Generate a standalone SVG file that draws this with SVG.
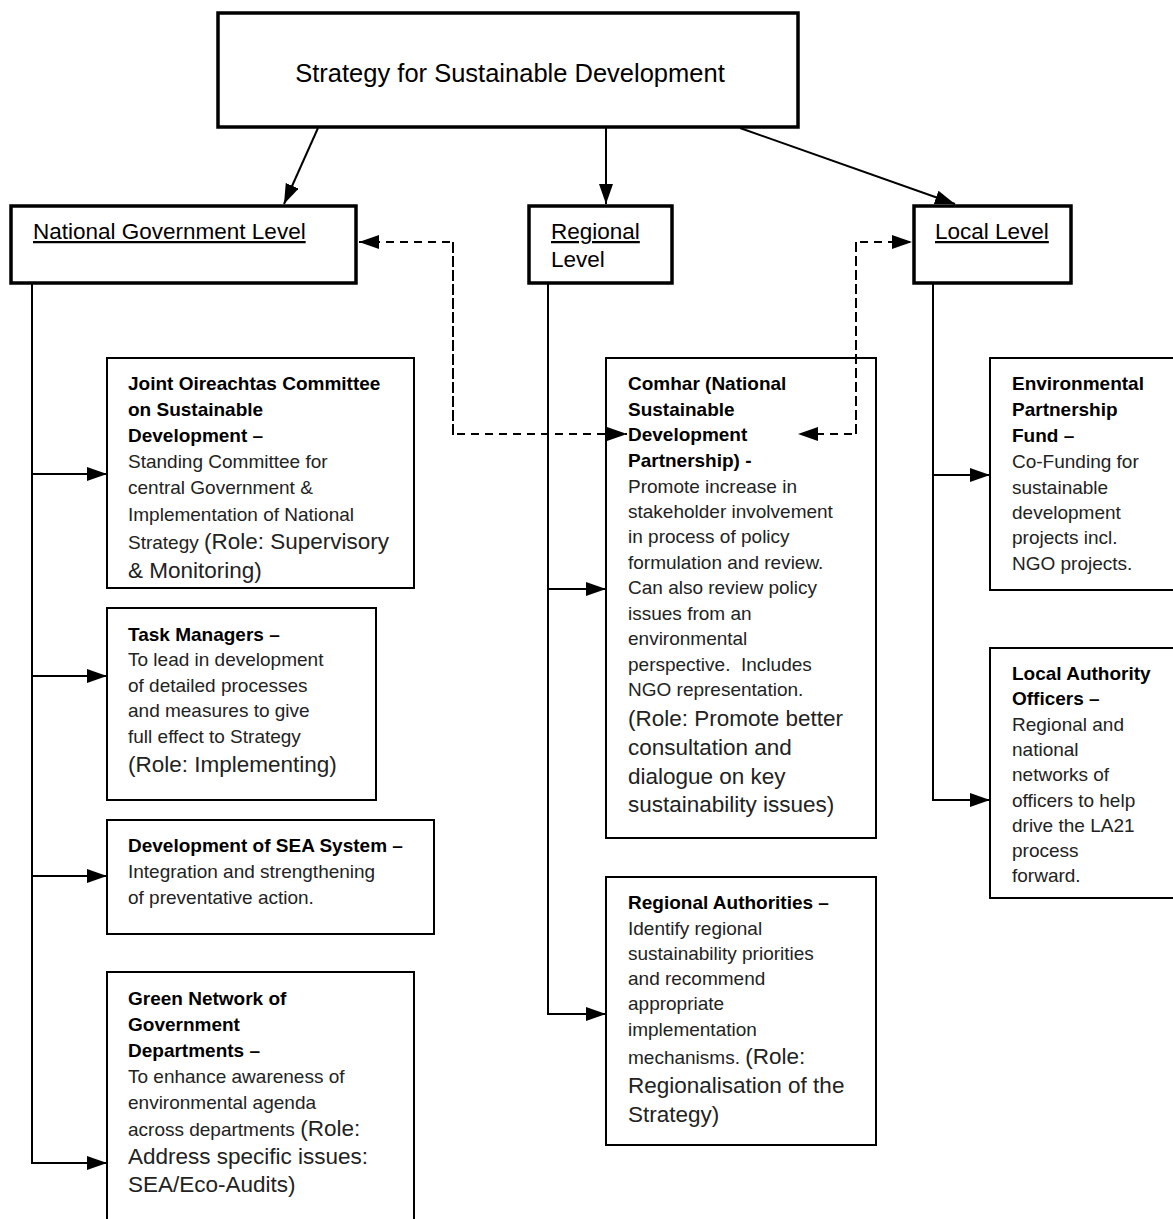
<svg xmlns="http://www.w3.org/2000/svg" width="1173" height="1219" viewBox="0 0 1173 1219">
<style>
.lvl{fill:#fff;stroke:#000;stroke-width:3.5}
.box{fill:#fff;stroke:#000;stroke-width:2}
.title{font-family:"Liberation Sans",Arial,sans-serif;font-size:25.5px;fill:#000}
.lbl{font-family:"Liberation Sans",Arial,sans-serif;font-size:22.5px;fill:#000}
.h{font-family:"Liberation Sans",Arial,sans-serif;font-size:19px;font-weight:bold;fill:#000}
.b{font-family:"Liberation Sans",Arial,sans-serif;font-size:19px;fill:#222}
.r{font-size:22.5px}
.ln{fill:none;stroke:#000;stroke-width:2}
.dash{fill:none;stroke:#000;stroke-width:2;stroke-dasharray:8,6}
</style>
<defs>
<marker id="ah" markerUnits="userSpaceOnUse" markerWidth="20" markerHeight="14" refX="20" refY="7" orient="auto">
<path d="M0,0 L20,7 L0,14 z" fill="#000"/>
</marker>
</defs>

<g id="strategy">
<rect class="lvl" x="218" y="13" width="580" height="114"/>
<text class="title" x="510" y="82" text-anchor="middle">Strategy for Sustainable Development</text>
</g>

<g id="national">
<rect class="lvl" x="11" y="206" width="345" height="77"/>
<text class="lbl" x="33" y="239" text-decoration="underline">National Government Level</text>
</g>

<g id="regional">
<rect class="lvl" x="529" y="206" width="143" height="77"/>
<text class="lbl" x="551" y="239" text-decoration="underline">Regional</text>
<text class="lbl" x="551" y="267">Level</text>
</g>

<g id="local">
<rect class="lvl" x="914" y="206" width="157" height="77"/>
<text class="lbl" x="935" y="239" text-decoration="underline">Local Level</text>
</g>

<g id="joint">
<rect class="box" x="107" y="358" width="307" height="230"/>
<text class="h" x="128" y="390">Joint Oireachtas Committee</text>
<text class="h" x="128" y="416">on Sustainable</text>
<text class="h" x="128" y="442">Development –</text>
<text class="b" x="128" y="468">Standing Committee for</text>
<text class="b" x="128" y="494">central Government &amp;</text>
<text class="b" x="128" y="521">Implementation of National</text>
<text class="b" x="128" y="549">Strategy <tspan class="r">(Role: Supervisory</tspan></text>
<text class="b r" x="128" y="578">&amp; Monitoring)</text>
</g>

<g id="task">
<rect class="box" x="107" y="608" width="269" height="192"/>
<text class="h" x="128" y="641">Task Managers –</text>
<text class="b" x="128" y="666">To lead in development</text>
<text class="b" x="128" y="692">of detailed processes</text>
<text class="b" x="128" y="717">and measures to give</text>
<text class="b" x="128" y="743">full effect to Strategy</text>
<text class="b r" x="128" y="772">(Role: Implementing)</text>
</g>

<g id="sea">
<rect class="box" x="107" y="820" width="327" height="114"/>
<text class="h" x="128" y="852">Development of SEA System –</text>
<text class="b" x="128" y="878">Integration and strengthening</text>
<text class="b" x="128" y="904">of preventative action.</text>
</g>

<g id="green">
<rect class="box" x="107" y="972" width="307" height="260"/>
<text class="h" x="128" y="1005">Green Network of</text>
<text class="h" x="128" y="1031">Government</text>
<text class="h" x="128" y="1057">Departments –</text>
<text class="b" x="128" y="1083">To enhance awareness of</text>
<text class="b" x="128" y="1109">environmental agenda</text>
<text class="b" x="128" y="1136">across departments <tspan class="r">(Role:</tspan></text>
<text class="b r" x="128" y="1164">Address specific issues:</text>
<text class="b r" x="128" y="1192">SEA/Eco-Audits)</text>
</g>

<g id="comhar">
<rect class="box" x="606" y="358" width="270" height="480"/>
<text class="h" x="628" y="390">Comhar (National</text>
<text class="h" x="628" y="416">Sustainable</text>
<text class="h" x="628" y="441">Development</text>
<text class="h" x="628" y="467">Partnership) -</text>
<text class="b" x="628" y="493">Promote increase in</text>
<text class="b" x="628" y="518">stakeholder involvement</text>
<text class="b" x="628" y="543">in process of policy</text>
<text class="b" x="628" y="569">formulation and review.</text>
<text class="b" x="628" y="594">Can also review policy</text>
<text class="b" x="628" y="620">issues from an</text>
<text class="b" x="628" y="645">environmental</text>
<text class="b" x="628" y="671" xml:space="preserve">perspective.  Includes</text>
<text class="b" x="628" y="696">NGO representation.</text>
<text class="b r" x="628" y="726">(Role: Promote better</text>
<text class="b r" x="628" y="755">consultation and</text>
<text class="b r" x="628" y="784">dialogue on key</text>
<text class="b r" x="628" y="812">sustainability issues)</text>
</g>

<g id="regauth">
<rect class="box" x="606" y="877" width="270" height="268"/>
<text class="h" x="628" y="909">Regional Authorities –</text>
<text class="b" x="628" y="935">Identify regional</text>
<text class="b" x="628" y="960">sustainability priorities</text>
<text class="b" x="628" y="985">and recommend</text>
<text class="b" x="628" y="1010">appropriate</text>
<text class="b" x="628" y="1036">implementation</text>
<text class="b" x="628" y="1064">mechanisms. <tspan class="r">(Role:</tspan></text>
<text class="b r" x="628" y="1093">Regionalisation of the</text>
<text class="b r" x="628" y="1122">Strategy)</text>
</g>

<g id="envfund">
<rect class="box" x="990" y="358" width="200" height="232"/>
<text class="h" x="1012" y="390">Environmental</text>
<text class="h" x="1012" y="416">Partnership</text>
<text class="h" x="1012" y="442">Fund –</text>
<text class="b" x="1012" y="468">Co-Funding for</text>
<text class="b" x="1012" y="494">sustainable</text>
<text class="b" x="1012" y="519">development</text>
<text class="b" x="1012" y="544">projects incl.</text>
<text class="b" x="1012" y="570">NGO projects.</text>
</g>

<g id="laofficers">
<rect class="box" x="990" y="648" width="200" height="250"/>
<text class="h" x="1012" y="680">Local Authority</text>
<text class="h" x="1012" y="705">Officers –</text>
<text class="b" x="1012" y="731">Regional and</text>
<text class="b" x="1012" y="756">national</text>
<text class="b" x="1012" y="781">networks of</text>
<text class="b" x="1012" y="807">officers to help</text>
<text class="b" x="1012" y="832">drive the LA21</text>
<text class="b" x="1012" y="857">process</text>
<text class="b" x="1012" y="882">forward.</text>
</g>

<g id="connectors">
<line class="ln" x1="318" y1="128" x2="284" y2="204" marker-end="url(#ah)"/>
<line class="ln" x1="606" y1="128" x2="606" y2="204" marker-end="url(#ah)"/>
<line class="ln" x1="740" y1="128" x2="955" y2="204" marker-end="url(#ah)"/>
<polyline class="dash" points="453,435 453,242 359,242" marker-end="url(#ah)"/>
<polyline class="dash" points="453,242 453,434 627,434" marker-end="url(#ah)"/>
<polyline class="dash" points="856,434 856,242 912,242" marker-end="url(#ah)"/>
<polyline class="dash" points="856,242 856,434 798,434" marker-end="url(#ah)"/>
<line class="ln" x1="32" y1="283" x2="32" y2="1164"/>
<line class="ln" x1="31" y1="474" x2="107" y2="474" marker-end="url(#ah)"/>
<line class="ln" x1="31" y1="676" x2="107" y2="676" marker-end="url(#ah)"/>
<line class="ln" x1="31" y1="876" x2="107" y2="876" marker-end="url(#ah)"/>
<line class="ln" x1="31" y1="1163" x2="107" y2="1163" marker-end="url(#ah)"/>
<line class="ln" x1="548" y1="283" x2="548" y2="1015"/>
<line class="ln" x1="547" y1="589" x2="606" y2="589" marker-end="url(#ah)"/>
<line class="ln" x1="547" y1="1014" x2="606" y2="1014" marker-end="url(#ah)"/>
<line class="ln" x1="933" y1="283" x2="933" y2="801"/>
<line class="ln" x1="932" y1="475" x2="990" y2="475" marker-end="url(#ah)"/>
<line class="ln" x1="932" y1="800" x2="990" y2="800" marker-end="url(#ah)"/>
</g>
</svg>
